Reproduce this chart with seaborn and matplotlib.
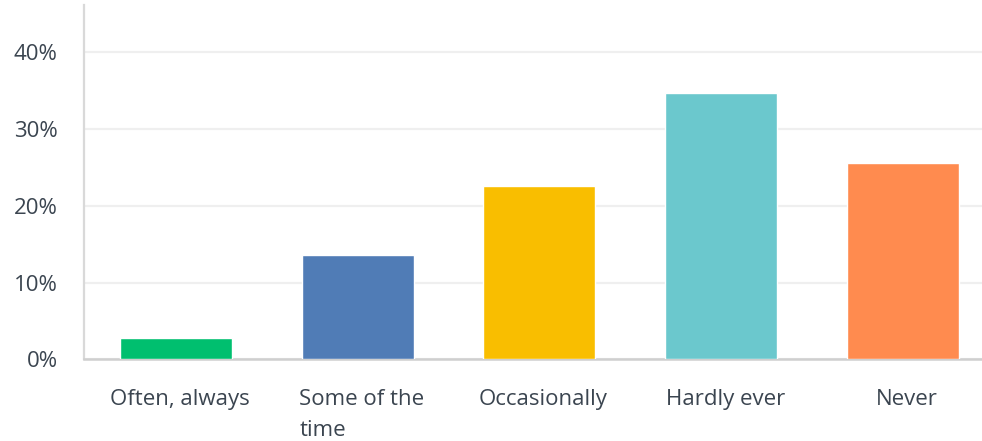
import matplotlib
matplotlib.use("Agg")
import matplotlib.pyplot as plt
import matplotlib.transforms as mtrans
import seaborn as sns
import pandas as pd
from matplotlib.ticker import FuncFormatter

categories = ["Often, always", "Some of the\ntime", "Occasionally", "Hardly ever", "Never"]
values = [2.8, 13.6, 22.6, 34.7, 25.6]
colors = ["#00bf6f", "#507cb6", "#f9be00", "#6bc8cd", "#ff8b4f"]
yticks = [0, 10, 20, 30, 40]

sns.set_theme(style="white")
plt.rcParams["font.family"] = ["Open Sans", "DejaVu Sans"]

df = pd.DataFrame({"cat": categories, "val": values})

fig = plt.figure(figsize=(9.82, 4.41), dpi=100)
ax = fig.add_axes([84 / 982, (441 - 359.3) / 441, (982 - 84) / 982, (359.3 - 5) / 441])

sns.barplot(data=df, x="cat", y="val", hue="cat", palette=colors, legend=False,
            width=0.616, saturation=1, ax=ax, zorder=3)

ax.set_xlim(-0.506, 4.435)
ax.set_ylim(0, 46.16)
ax.set_yticks(yticks)
ax.yaxis.set_major_formatter(FuncFormatter(lambda v, p: f"{int(v)}%"))
ax.grid(axis="y", color="#efefef", linewidth=1.6, zorder=0)
ax.set_axisbelow(True)
ax.set_xlabel("")
ax.set_ylabel("")

for s in ["top", "right"]:
    ax.spines[s].set_visible(False)
ax.spines["left"].set_color("#d9d9d9")
ax.spines["left"].set_linewidth(1.6)
ax.spines["bottom"].set_color("#cfcfcf")
ax.spines["bottom"].set_linewidth(1.8)

txtcol = "#3b4550"
ax.tick_params(axis="y", length=0, pad=19, labelsize=16, labelcolor=txtcol)
ax.tick_params(axis="x", length=0, pad=21.5, labelsize=16, labelcolor=txtcol)
offset = mtrans.ScaledTranslation(4 / 100, 0, fig.dpi_scale_trans)
for lbl in ax.get_xticklabels():
    lbl.set_multialignment("left")
    lbl.set_linespacing(1.6)
    lbl.set_transform(lbl.get_transform() + offset)

fig.savefig("out.png", dpi=100)
